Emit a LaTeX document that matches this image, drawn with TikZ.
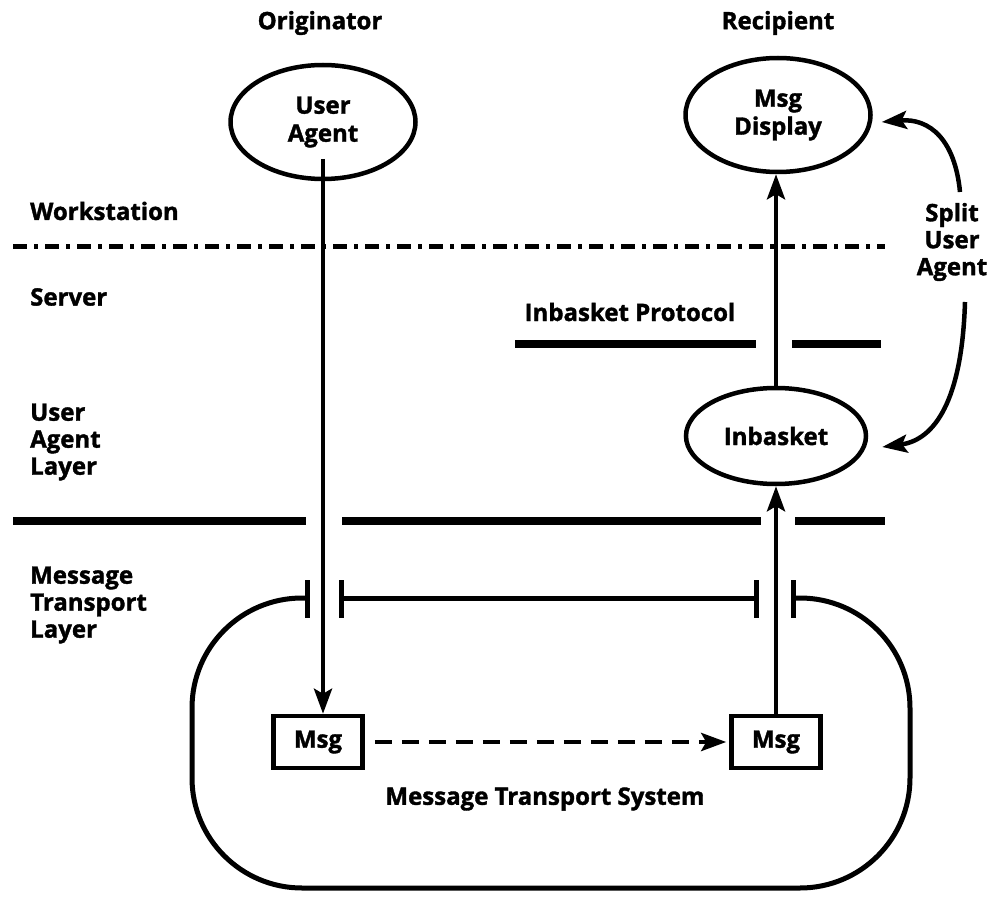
\documentclass[tikz,border=0pt]{standalone}
\usepackage{fontspec}
\setmainfont{Open Sans}[BoldFeatures={FakeBold=1.5}]
\usetikzlibrary{arrows.meta,shapes.geometric,calc}
\begin{document}
\begin{tikzpicture}[x=1pt,y=-1pt,
  lbl/.style={font=\bfseries\fontsize{24}{27}\selectfont, inner sep=0pt, align=center},
  ell/.style={ellipse, draw, line width=4.5pt, minimum width=185pt, minimum height=114pt, inner sep=0pt, font=\bfseries\fontsize{24}{28}\selectfont, align=center},
  msgbox/.style={draw, line width=4.5pt, minimum width=89pt, minimum height=52pt, inner sep=0pt, font=\bfseries\fontsize{24}{27}\selectfont},
  arr/.style={line width=4.5pt, -{Stealth[length=25pt,width=18pt,inset=5pt]}},
  dashdotline/.style={line width=5pt, dash pattern=on 14pt off 7pt on 4pt off 7pt},
  sepline/.style={line width=7.5pt},
  tickline/.style={line width=5pt},
  mtsline/.style={line width=5pt}
]
\useasboundingbox (0,0) rectangle (1007,920);

% top labels
\node[lbl] (orig) at (320,23) {Originator};
\node[lbl] (recip) at (778,23) {Recipient};

% ellipses
\node[ell] (ua) at (323,122) {User\\Agent};
\node[ell] (md) at (778,115) {Msg\\Display};
\node[ell, minimum width=180pt, minimum height=96pt] (ib) at (776,436) {Inbasket};

% left labels
\node[lbl, anchor=west] (ws) at (30,211) {Workstation};
\node[lbl, anchor=west] (srv) at (30,297) {Server};
\node[lbl, anchor=west, align=left] (ual) at (30,442) {User\\Agent\\Layer};
\node[lbl, anchor=west, align=left] (mtl) at (30,605) {Message\\Transport\\Layer};

\node[lbl] (ibp) at (630,312) {Inbasket Protocol};
\node[lbl] (sua) at (952,242) {Split\\User\\Agent};

% message boxes
\node[msgbox] (m1) at (318,742) {Msg};
\node[msgbox] (m2) at (776,742) {Msg};
\node[lbl] (mts) at (545,799) {Message Transport System};

% separator lines
\draw[dashdotline] (13,247) -- (885,247);
\draw[sepline] (515,344) -- (756,344);
\draw[sepline] (792,344) -- (881,344);
\draw[sepline] (13,521) -- (306,521);
\draw[sepline] (342,521) -- (761,521);
\draw[sepline] (795,521) -- (885,521);

% message transport system enclosure
\draw[mtsline, rounded corners=110pt] (307,598) -- (192,598) -- (192,888) -- (910,888) -- (910,598) -- (793,598);
\draw[mtsline] (341,598) -- (756,598);
\draw[tickline] (307,580) -- (307,618);
\draw[tickline] (341,580) -- (341,618);
\draw[tickline] (756,580) -- (756,618);
\draw[tickline] (793,580) -- (793,618);

% vertical arrows
\draw[arr] ([yshift=-37pt]ua.center) -- (ua.center |- m1.north);
\draw[arr] (m2.north) -- (ib.south);
\draw[arr] (ib.north) -- (ib.north |- md.south);

% dashed arrow
\draw[arr, dash pattern=on 17pt off 10pt, shorten <=10pt, shorten >=3pt] (m1.east) -- (m2.west);

% split user agent curved arrows
\coordinate (c1) at (960,192);
\coordinate (c2) at (965,302);
\draw[arr] (c1) .. controls (955,140) and (930,118) .. ([shift={(9pt,-7pt)}]md.east);
\draw[arr] (c2) .. controls (962,400) and (935,440) .. ([shift={(14pt,-11pt)}]ib.east);
\end{tikzpicture}
\end{document}
